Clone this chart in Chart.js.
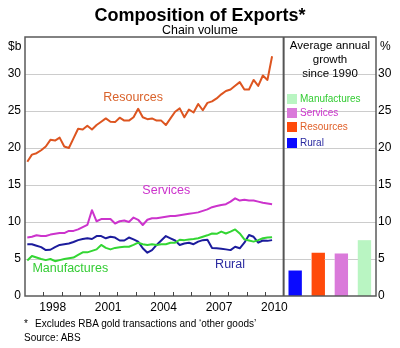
<!DOCTYPE html>
<html>
<head>
<meta charset="utf-8">
<script src="https://cdn.jsdelivr.net/npm/chart.js@4.4.1/dist/chart.umd.min.js"></script>
<style>
  body { margin: 0; background: #fff; }
  #wrap { position: relative; width: 400px; height: 348px; overflow: hidden;
          font-family: "Liberation Sans", Arial, sans-serif; color: #000; }
  #wrap canvas { position: absolute; top: 0; left: 0; }
  .txt { position: absolute; white-space: nowrap; }
  .key { position: absolute; width: 10px; height: 10px; }
</style>
</head>
<body>
<div id="wrap">
  <canvas id="exports" width="400" height="348"></canvas>

  <div class="txt" style="left:0;width:400px;top:6px;text-align:center;font-size:18px;line-height:18px;font-weight:bold">Composition of Exports*</div>
  <div class="txt" style="left:0;width:400px;top:23.5px;text-align:center;font-size:12.4px;line-height:13px">Chain volume</div>
  <div class="txt" style="left:8px;top:40px;font-size:12px;line-height:12px">$b</div>
  <div class="txt" style="left:380px;top:40px;font-size:12px;line-height:12px">%</div>

  <div class="txt" style="left:284px;width:92px;top:38px;text-align:center;font-size:11.5px;line-height:14px">Average annual<br>growth<br>since 1990</div>

  <div class="key" style="left:287px;top:93.5px;background:#b9f5c2"></div>
  <div class="txt" style="left:300px;top:93.5px;font-size:10px;line-height:10px;color:#33cc33">Manufactures</div>
  <div class="key" style="left:287px;top:107.5px;background:#da7ada"></div>
  <div class="txt" style="left:300px;top:107.5px;font-size:10px;line-height:10px;color:#cc33cc">Services</div>
  <div class="key" style="left:287px;top:122px;background:#ff4a0a"></div>
  <div class="txt" style="left:300px;top:122px;font-size:10px;line-height:10px;color:#e0602a">Resources</div>
  <div class="key" style="left:287px;top:137.5px;background:#0a0aff"></div>
  <div class="txt" style="left:300px;top:137.5px;font-size:10px;line-height:10px;color:#2a2aa0">Rural</div>

  <div class="txt" style="left:24px;top:318px;font-size:10px;line-height:11px">*</div>
  <div class="txt" style="left:35px;top:318px;font-size:10px;line-height:11px">Excludes RBA gold transactions and ‘other goods’</div>
  <div class="txt" style="left:24px;top:332px;font-size:10px;line-height:11px">Source: ABS</div>
</div>

<script>
// quarterly volumes, $b, March quarter 1997 to June quarter 2010
const resources = [18.15, 19.1, 19.3, 19.7, 20.2, 21.1, 21.0, 21.4, 20.2, 20.0,
  21.3, 22.6, 22.5, 23.0, 22.5, 23.1, 23.55, 24.0, 23.55, 23.5,
  24.1, 23.7, 23.7, 24.15, 25.3, 24.15, 23.9, 24.0, 23.7, 23.7,
  23.1, 24.0, 24.9, 25.35, 24.15, 25.2, 24.8, 25.95, 25.1, 26.1,
  26.3, 26.7, 27.25, 27.7, 27.9, 28.4, 28.9, 27.9, 27.9, 29.2,
  28.4, 29.8, 29.2, 32.4];
const services = [7.9, 8.0, 8.2, 8.1, 8.1, 8.3, 8.4, 8.5, 8.5, 8.8,
  8.8, 9.0, 9.3, 9.6, 11.6, 10.1, 10.4, 10.4, 10.4, 9.8,
  10.1, 10.2, 10.0, 10.6, 10.3, 9.6, 10.3, 10.5, 10.5, 10.6,
  10.7, 10.8, 10.8, 10.9, 11.0, 11.1, 11.2, 11.3, 11.5, 11.7,
  12.0, 12.15, 12.3, 12.4, 12.75, 13.2, 12.9, 13.0, 12.9, 12.9,
  12.75, 12.6, 12.5, 12.4];
const rural = [7.0, 7.0, 6.8, 6.6, 6.2, 6.25, 6.6, 6.9, 7.0, 7.1,
  7.3, 7.55, 7.7, 7.8, 7.7, 8.1, 8.1, 7.8, 8.0, 7.9,
  7.5, 7.5, 7.9, 7.65, 7.35, 6.45, 5.85, 6.2, 6.9, 7.5,
  8.1, 7.8, 7.5, 6.9, 7.1, 7.2, 7.0, 7.35, 7.55, 7.6,
  6.5, 6.45, 6.4, 6.3, 6.2, 6.65, 6.45, 7.2, 8.25, 8.0,
  7.2, 7.5, 7.45, 7.55];
const manufactures = [4.8, 5.4, 5.2, 5.0, 4.85, 5.0, 4.7, 4.85, 5.0, 5.1,
  5.2, 5.55, 5.9, 5.9, 6.1, 6.3, 6.9, 6.5, 6.3, 6.5,
  6.6, 6.65, 6.65, 6.9, 7.2, 7.0, 6.9, 7.0, 6.9, 7.0,
  7.0, 7.2, 7.2, 7.6, 7.55, 7.65, 7.7, 7.8, 8.0, 8.2,
  8.45, 8.4, 8.7, 8.45, 8.7, 9.0, 8.45, 7.65, 7.5, 7.35,
  7.55, 7.8, 7.9, 7.95];

// average annual growth since 1990, %
const growthNames = ['Rural', 'Resources', 'Services', 'Manufactures'];
const growth = [3.4, 5.8, 5.7, 7.5];
const growthColors = ['#0a0aff', '#ff4a0a', '#da7ada', '#b9f5c2'];

const yearLabels = [1998, 2001, 2004, 2007, 2010];
const yTicks = [0, 5, 10, 15, 20, 25, 30];

// mid-quarter positions in decimal years
const quarters = [];
for (let yr = 1997; yr <= 2010; yr++) {
  for (let q = 1; q <= 4; q++) quarters.push(yr + (q - 0.5) / 4);
}
const toPoints = arr => arr.map((v, i) => ({ x: quarters[i], y: v }));

const FONT = '"Liberation Sans", Arial, sans-serif';
const GRID = '#cccccc';

// time panel runs 1997-2011; the growth panel takes the next 5 years of width,
// one equal slot per bar
const X_MIN = 1997, SPLIT = 2011, X_MAX = 2016;
const SLOT = (X_MAX - SPLIT) / growth.length;
const growthPoints = growth.map((v, i) => ({ x: SPLIT + (i + 0.5) * SLOT, y: v }));

const gridRow = (ctx, scales, v) => Math.round(scales.y.getPixelForValue(v)) + 0.5;

// grid: under the lines in the time panel, and in the growth panel drawn
// last with a gap wherever a bar stands
const grid = {
  id: 'grid',
  beforeDatasetsDraw(chart) {
    const { ctx, chartArea: a, scales } = chart;
    const split = scales.x.getPixelForValue(SPLIT);
    ctx.save();
    ctx.strokeStyle = GRID;
    ctx.lineWidth = 1;
    ctx.beginPath();
    yTicks.slice(1).forEach(v => {
      const py = gridRow(ctx, scales, v);
      ctx.moveTo(a.left, py);
      ctx.lineTo(split, py);
    });
    ctx.stroke();
    ctx.restore();
  },
  afterDraw(chart) {
    const { ctx, chartArea: a, scales } = chart;
    const split = scales.x.getPixelForValue(SPLIT);
    const bars = chart.getDatasetMeta(4).data;
    ctx.save();
    ctx.strokeStyle = GRID;
    ctx.lineWidth = 1;
    yTicks.slice(1).forEach(v => {
      const py = gridRow(ctx, scales, v);
      let x0 = split;
      ctx.beginPath();
      bars.forEach(b => {
        const { x, y, width } = b.getProps(['x', 'y', 'width'], true);
        if (y < py) {
          ctx.moveTo(x0, py);
          ctx.lineTo(x - width / 2, py);
          x0 = x + width / 2;
        }
      });
      ctx.moveTo(x0, py);
      ctx.lineTo(a.right, py);
      ctx.stroke();
    });
    ctx.restore();
  }
};

// box round the plot area, the divider between panels and the year ticks
const frame = {
  id: 'frame',
  afterDraw(chart) {
    const { ctx, chartArea: a, scales } = chart;
    ctx.save();
    ctx.strokeStyle = '#5a5a5a';
    ctx.lineWidth = 1.5;
    ctx.strokeRect(a.left, a.top, a.right - a.left, a.bottom - a.top);
    const px = scales.x.getPixelForValue(SPLIT);
    ctx.lineWidth = 2;
    ctx.strokeStyle = '#555';
    ctx.beginPath();
    ctx.moveTo(px, a.top);
    ctx.lineTo(px, a.bottom);
    ctx.stroke();
    ctx.strokeStyle = '#444';
    ctx.lineWidth = 1;
    ctx.beginPath();
    for (let yr = X_MIN + 1; yr < SPLIT; yr++) {
      const tx = Math.round(scales.x.getPixelForValue(yr)) + 0.5;
      ctx.moveTo(tx, a.bottom);
      ctx.lineTo(tx, a.bottom - 4);
    }
    ctx.stroke();
    ctx.restore();
  }
};

// series names written next to their lines
const seriesLabels = {
  id: 'seriesLabels',
  afterDatasetsDraw(chart, args, opts) {
    const { ctx, scales } = chart;
    ctx.save();
    ctx.font = '12.5px ' + FONT;
    ctx.textAlign = 'center';
    ctx.textBaseline = 'middle';
    opts.items.forEach(it => {
      ctx.fillStyle = it.color;
      ctx.fillText(it.text, scales.x.getPixelForValue(it.x), scales.y.getPixelForValue(it.y));
    });
    ctx.restore();
  }
};

const lineSet = (label, arr, color) => ({
  type: 'line', label, data: toPoints(arr), borderColor: color, borderWidth: 2,
  pointRadius: 0, tension: 0, fill: false, borderJoinStyle: 'round',
  xAxisID: 'x', yAxisID: 'y'
});

const yAxis = (position, width) => ({
  position, min: 0, max: 35,
  afterBuildTicks: s => { s.ticks = yTicks.map(v => ({ value: v })); },
  afterFit: s => { s.width = width; },
  grid: { display: false, drawTicks: false },
  border: { display: false },
  ticks: { color: '#000', padding: position === 'left' ? 4 : 2, font: { family: FONT, size: 12 } }
});

new Chart(document.getElementById('exports'), {
  type: 'line',
  data: {
    datasets: [
      lineSet('Manufactures', manufactures, '#33d633'),
      lineSet('Rural', rural, '#1c1c9c'),
      lineSet('Services', services, '#cc33cc'),
      lineSet('Resources', resources, '#dd5520'),
      {
        type: 'bar', label: 'Average annual growth since 1990',
        data: growthPoints,
        backgroundColor: growthColors,
        barThickness: 12.7,
        xAxisID: 'x', yAxisID: 'y2'
      }
    ]
  },
  options: {
    responsive: false, animation: false, devicePixelRatio: 1,
    layout: { padding: { left: 0, right: 0, top: 37, bottom: 0 } },
    scales: {
      x: { type: 'linear', min: X_MIN, max: X_MAX, offset: false, display: false },
      yr: {
        type: 'linear', position: 'bottom', min: X_MIN - 0.5, max: X_MAX - 0.5,
        afterBuildTicks: s => { s.ticks = yearLabels.map(v => ({ value: v })); },
        afterFit: s => { s.height = 52; },
        grid: { display: false, drawTicks: false }, border: { display: false },
        ticks: { color: '#000', padding: 4, autoSkip: false, maxRotation: 0,
                 font: { family: FONT, size: 12 }, callback: v => String(v) }
      },
      y: yAxis('left', 25),
      y2: yAxis('right', 24)
    },
    plugins: {
      legend: { display: false }, tooltip: { enabled: false },
      seriesLabels: {
        items: [
          { text: 'Resources', x: 2002.85, y: 26.8, color: '#d9622b' },
          { text: 'Services', x: 2004.65, y: 14.3, color: '#cc33cc' },
          { text: 'Manufactures', x: 1999.45, y: 3.65, color: '#33cc33' },
          { text: 'Rural', x: 2008.1, y: 4.2, color: '#2a2aa0' }
        ]
      }
    }
  },
  plugins: [grid, frame, seriesLabels]
});
</script>
</body>
</html>
